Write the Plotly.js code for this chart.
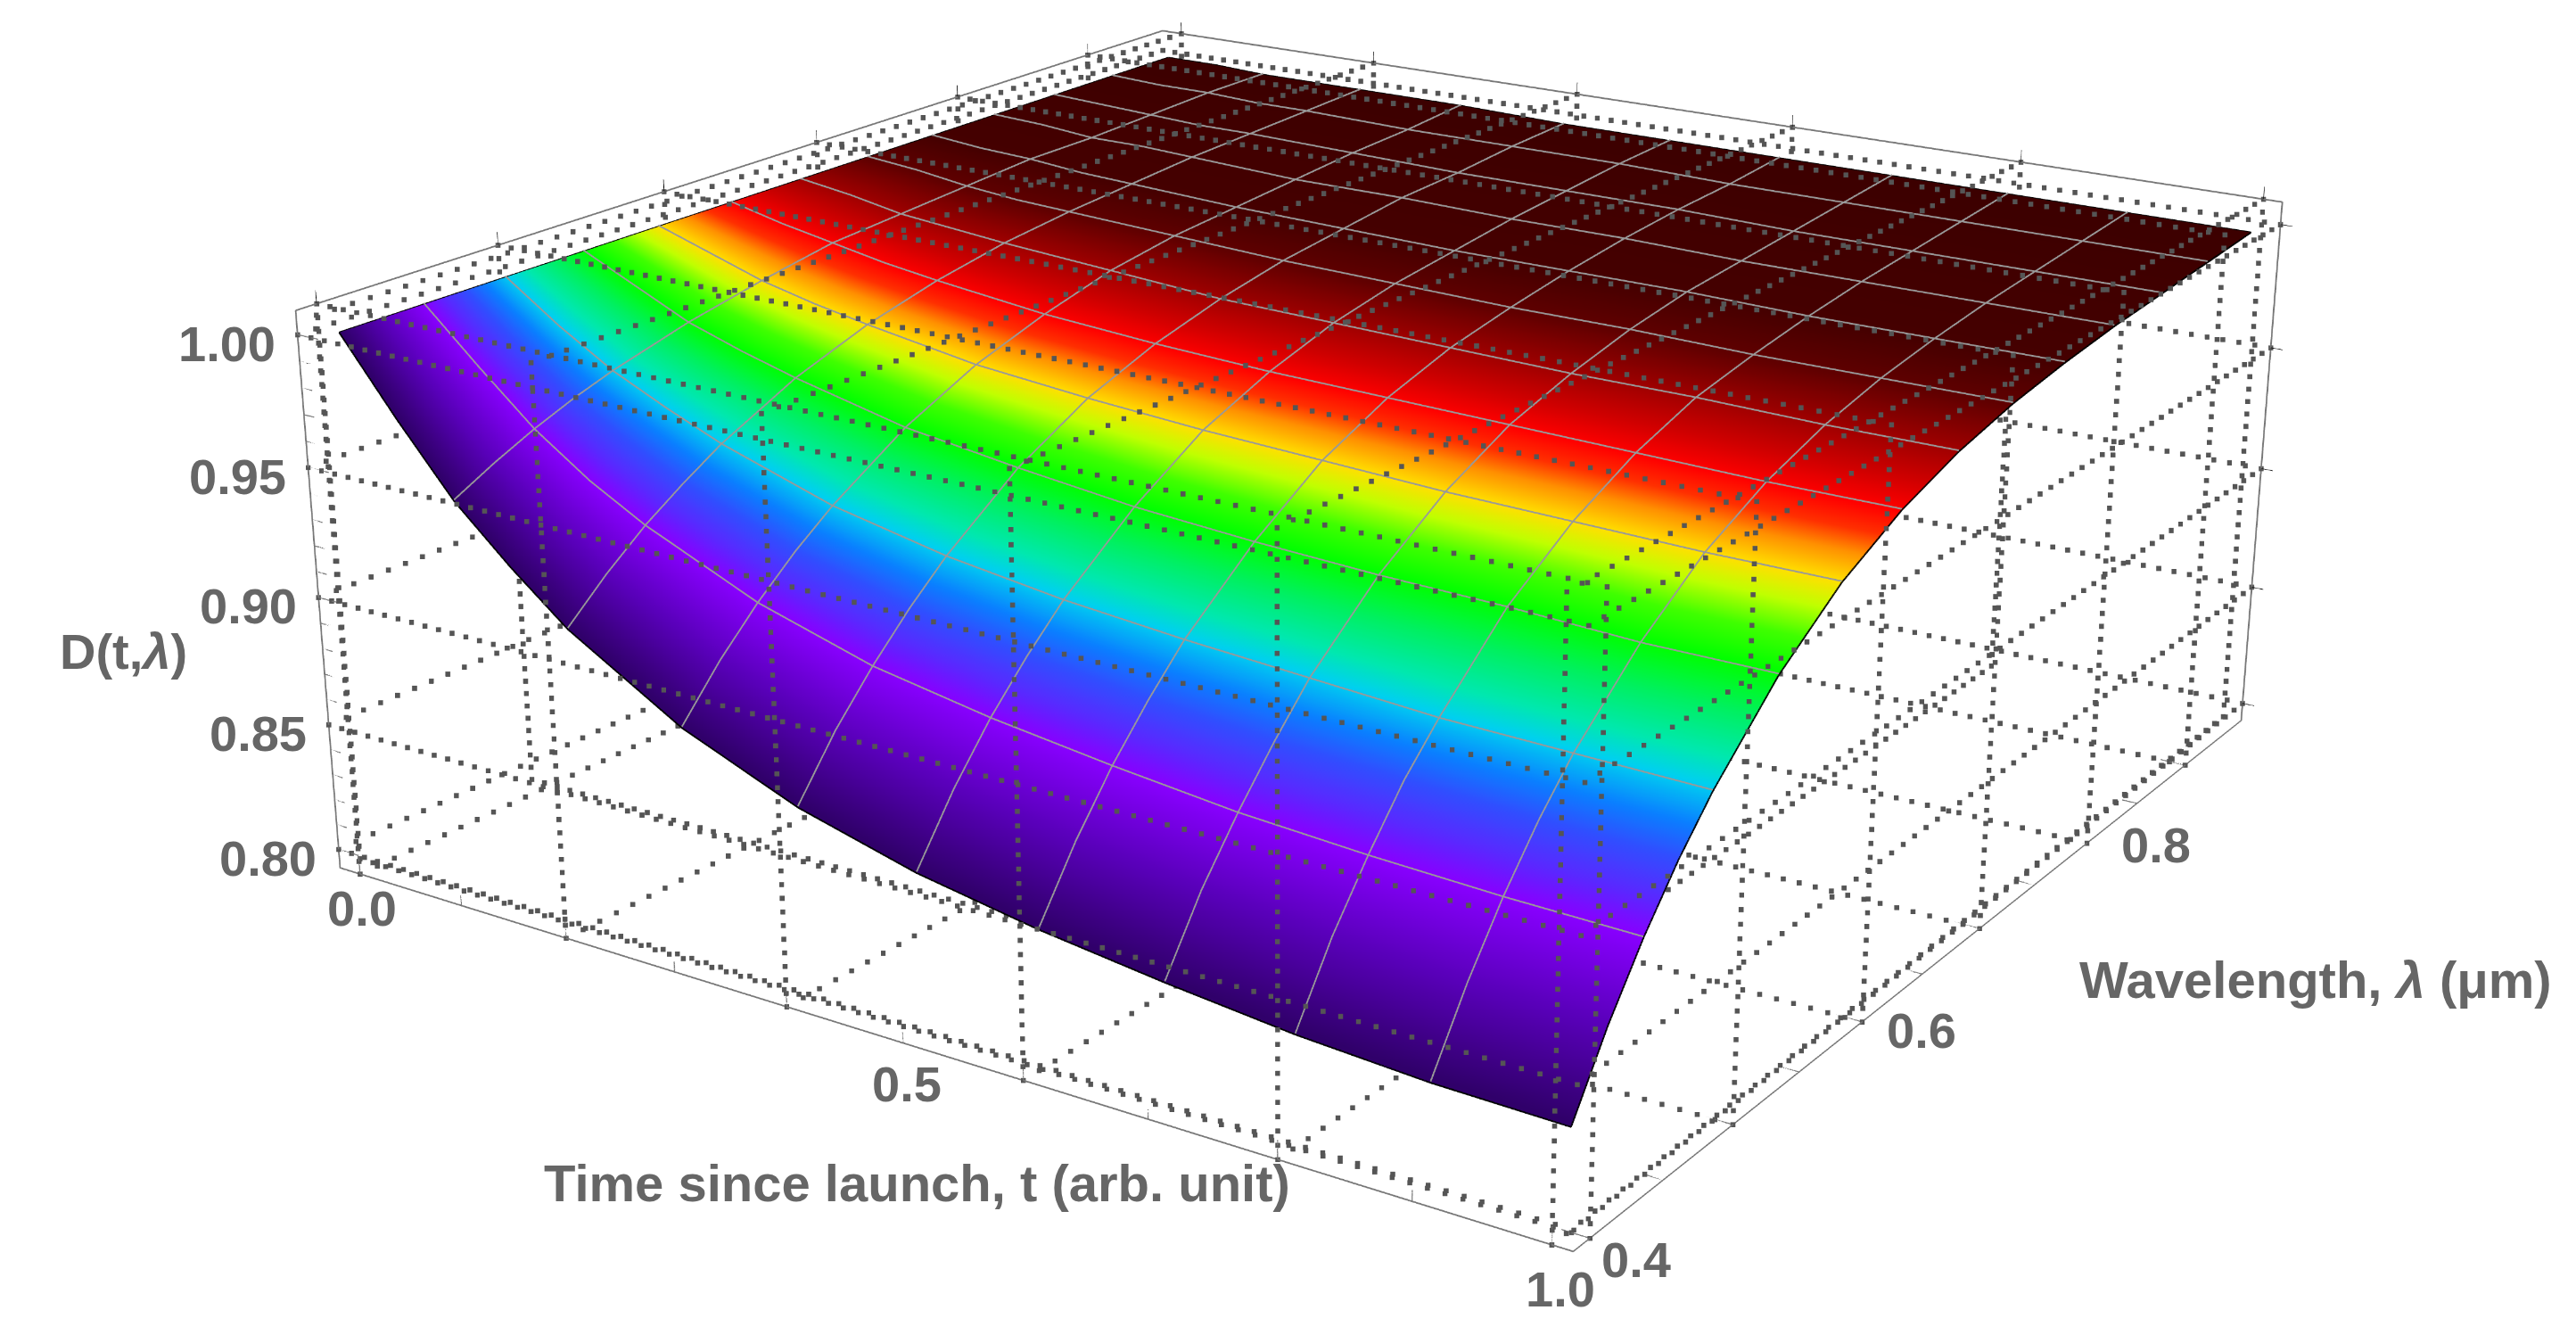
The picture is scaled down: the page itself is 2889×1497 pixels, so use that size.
<!DOCTYPE html>
<html><head><meta charset="utf-8">
<script src="https://cdn.plot.ly/plotly-3.0.1.min.js"></script>
<style>html,body{margin:0;background:#fff;overflow:hidden;width:2889px;height:1497px}#p{position:absolute;left:0;width:2889px}</style></head>
<body><div id="p"></div>
<script>
const W=2889,H=1497,HB=4200;
const tTicks=[0,0.2,0.4,0.6,0.8,1];
const tMinor=[.1,.3,.5,.7,.9];
const lamTicks=[0.4,0.5,0.6,0.7,0.8,0.9];
const lamMinor=[.45,.55,.65,.75,.85];
const zTicks=[0.8,0.85,0.9,0.95,1];
const zMinor=[.81,.82,.83,.84,.86,.87,.88,.89,.91,.92,.93,.94,.96,.97,.98,.99];
const T=[0,.05,.1,.15,.2,.3,.4,.5,.6,.7,.8,.9,1];
const LAM=[.4,.423,.4458,.4688,.4917,.5375,.5833,.6292,.675,.7208,.7667,.8125,.8583,.9042,.95];
const MESH_T=[.1,.2,.3,.4,.5,.6,.7,.8,.9];
const MESH_LAM=[.4458,.4917,.5375,.5833,.6292,.675,.7208,.7667,.8125,.8583,.9042];
const Z=[
[1,.972,.946,.926,.908,.882,.864,.852,.844,.838,.833,.830,.829],
[1,.976,.954,.937,.922,.900,.885,.875,.868,.863,.859,.856,.855],
[1,.980,.961,.946,.934,.915,.902,.894,.888,.883,.880,.878,.877],
[1,.983,.967,.955,.944,.928,.917,.910,.905,.901,.899,.897,.896],
[1,.985,.972,.962,.953,.939,.930,.924,.920,.917,.914,.913,.912],
[1,.990,.980,.973,.967,.957,.951,.946,.943,.941,.940,.938,.938],
[1,.993,.986,.981,.977,.970,.966,.963,.961,.959,.958,.957,.957],
[1,.995,.991,.987,.984,.979,.976,.974,.973,.972,.971,.970,.970],
[1,.997,.993,.991,.989,.986,.983,.982,.981,.980,.980,.979,.979],
[1,.998,.995,.993,.992,.990,.988,.987,.986,.986,.985,.985,.985],
[1,.998,.997,.995,.994,.992,.991,.990,.990,.990,.989,.989,.989],
[1,.999,.997,.997,.996,.994,.994,.993,.993,.992,.992,.992,.992],
[1,.999,.998,.997,.997,.996,.995,.995,.995,.994,.994,.994,.994],
[1,.999,.999,.998,.998,.997,.997,.997,.996,.996,.996,.996,.996],
[1,1,.999,.999,.999,.999,.998,.998,.998,.998,.998,.998,.998]];
const XR=[-.02,1.015],YR=[.389,.961],ZR=[.7925,1.009];
const p=[1.62929,-2.48837,1.01109,.25156,-.42967,.08284,.99589,.39367];
const pd=document.getElementById('p');pd.style.height=HB+'px';pd.style.top=(-(HB-H)/2)+'px';
function dots(){const X=[],Y=[],Zs=[];
 const add=(a,b,n)=>{for(let i=0;i<=n;i++){const f=i/n;X.push(a[0]+(b[0]-a[0])*f);Y.push(a[1]+(b[1]-a[1])*f);Zs.push(a[2]+(b[2]-a[2])*f);}};
 for(const l of lamTicks)for(const z of ZR)add([XR[0],l,z],[XR[1],l,z],80);
 for(const z of zTicks)for(const l of YR)add([XR[0],l,z],[XR[1],l,z],80);
 for(const t of tTicks)for(const z of ZR)add([t,YR[0],z],[t,YR[1],z],60);
 for(const z of zTicks)for(const t of XR)add([t,YR[0],z],[t,YR[1],z],60);
 for(const l of lamTicks)for(const t of XR)add([t,l,ZR[0]],[t,l,ZR[1]],42);
 for(const t of tTicks)for(const l of YR)add([t,l,ZR[0]],[t,l,ZR[1]],42);
 return {type:'scatter3d',mode:'markers',x:X,y:Y,z:Zs,marker:{size:2.4,color:'#555',symbol:'square',opacity:1},showlegend:false,hoverinfo:'skip'};}
const edge=(x,y,z,c,w)=>({type:'scatter3d',mode:'lines',x,y,z,line:{color:c,width:w},showlegend:false,hoverinfo:'skip'});
function ticks(){const X=[],Y=[],Zs=[];const seg=(a,b)=>{X.push(a[0],b[0],null);Y.push(a[1],b[1],null);Zs.push(a[2],b[2],null);};
 tTicks.forEach(t=>seg([t,YR[0],ZR[0]],[t,YR[0],ZR[0]+.007]));tMinor.forEach(t=>seg([t,YR[0],ZR[0]],[t,YR[0],ZR[0]+.004]));
 lamTicks.forEach(l=>seg([XR[1],l,ZR[0]],[XR[1]-.02,l,ZR[0]]));lamMinor.forEach(l=>seg([XR[1],l,ZR[0]],[XR[1]-.012,l,ZR[0]]));
 zTicks.forEach(z=>seg([XR[0],YR[0],z],[XR[0]+.02,YR[0],z]));zMinor.forEach(z=>seg([XR[0],YR[0],z],[XR[0]+.01,YR[0],z]));
 return edge(X,Y,Zs,'#777',2);}
const lift=.0005,last=Z.length-1,tl=T.length-1;
const mesh=[];
LAM.forEach((l,i)=>{if(MESH_LAM.includes(l))mesh.push(edge(T,T.map(()=>l),Z[i].map(v=>v+lift),'#999',3));});
T.forEach((t,j)=>{if(MESH_T.includes(t))mesh.push(edge(LAM.map(()=>t),LAM,Z.map(r=>r[j]+lift),'#999',3));});
const data=[{type:'surface',x:T,y:LAM,z:Z,surfacecolor:LAM.map(l=>T.map(()=>l)),showscale:false,cmin:.4,cmax:.95,
 colorscale:[[0,'#30006a'],[.04,'#5800b8'],[.083,'#8800ff'],[.1,'#5a28ff'],[.127,'#2f50ff'],[.145,'#0a80ff'],[.167,'#00d0f0'],[.19,'#00e8b0'],[.218,'#00f060'],[.25,'#00ff00'],[.282,'#40ff00'],[.309,'#c0ff00'],[.333,'#ffe000'],[.364,'#ff9000'],[.39,'#ff3000'],[.416,'#ff0000'],[.455,'#d00000'],[.5,'#a00000'],[.58,'#600000'],[.667,'#450000'],[1,'#3c0000']],
 lighting:{ambient:1,diffuse:0,specular:0,fresnel:0},hoverinfo:'skip'},
 dots(),ticks(),...mesh,
 edge(T,T.map(()=>LAM[0]),Z[0],'#000',3),
 edge(T,T.map(()=>LAM[last]),Z[last],'#000',3),
 edge(LAM.map(()=>T[tl]),LAM,Z.map(r=>r[tl]),'#000',3),
 edge(LAM.map(()=>T[0]),LAM,Z.map(r=>r[0]),'#000',3)];
const ax=r=>({range:r,showgrid:false,zeroline:false,showbackground:false,showline:true,mirror:'all',linecolor:'#777',linewidth:3,ticks:'',ticklen:0,tickwidth:0,showticklabels:false,showspikes:false,title:{text:''}});
const font={family:'Liberation Sans',size:56,color:'#666',weight:'bold'};
const tfont={...font,size:58};
const ann=[];
zTicks.forEach(v=>ann.push({x:XR[0],y:YR[0],z:v,text:v.toFixed(2),showarrow:false,font,xshift:-79,yshift:-10}));
[[0,2,-38],[.5,4,-46],[1,10,-50]].forEach(a=>ann.push({x:a[0],y:YR[0],z:ZR[0],text:a[0].toFixed(1),showarrow:false,font,xshift:a[1],yshift:a[2]}));
[[.4,52,-24],[.6,67,-10],[.8,78,-2]].forEach(a=>ann.push({x:XR[1],y:a[0],z:ZR[0],text:a[0].toFixed(1),showarrow:false,font,xshift:a[1],yshift:a[2]}));
const pt=(x,y)=>({x:x/W,y:1-(y+(HB-H)/2)/HB,xref:'paper',yref:'paper',xanchor:'center',yanchor:'middle',showarrow:false,font:tfont});
Plotly.newPlot('p',data,{width:W,height:HB,margin:{l:0,r:0,t:0,b:0},paper_bgcolor:'#fff',showlegend:false,
 annotations:[{...pt(1028,1326),text:'Time since launch, t (arb. unit)'},{...pt(2597,1098),text:'Wavelength, <i>λ</i> (μm)'},{...pt(138,730),text:'D(t,<i>λ</i>)',font}],
 scene:{domain:{x:[0,1],y:[0,1]},aspectmode:'manual',aspectratio:{x:p[6],y:1,z:p[7]},
 camera:{eye:{x:p[0],y:p[1],z:p[2]},center:{x:p[3],y:p[4],z:p[5]},up:{x:0,y:0,z:1}},
 xaxis:ax(XR),yaxis:ax(YR),zaxis:ax(ZR),annotations:ann}},{displayModeBar:false});
</script></body></html>
